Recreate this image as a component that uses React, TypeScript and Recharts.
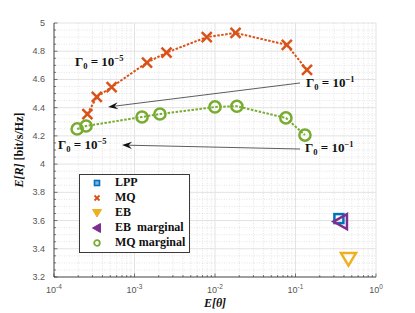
import {
  ScatterChart,
  Scatter,
  XAxis,
  YAxis,
  CartesianGrid,
  ReferenceLine,
  ReferenceDot,
  Legend,
} from "recharts";

// MQ (multi-level quantizer) curve
const mqTheta = [2.6e-4, 3.4e-4, 5.2e-4, 1.43e-3, 2.5e-3, 7.9e-3, 1.8e-2, 7.8e-2, 0.139];
const mqRate = [4.355, 4.476, 4.546, 4.72, 4.79, 4.9, 4.93, 4.845, 4.667];

// MQ marginal curve
const mqMargTheta = [1.94e-4, 2.5e-4, 1.24e-3, 2.07e-3, 1.0e-2, 1.87e-2, 7.6e-2, 0.131];
const mqMargRate = [4.249, 4.27, 4.334, 4.355, 4.405, 4.41, 4.327, 4.206];

// single points
const lppTheta = [0.346];
const lppRate = [3.614];
const ebTheta = [0.455];
const ebRate = [3.327];
const ebMargTheta = [0.367];
const ebMargRate = [3.593];

const xMajor = [1e-4, 1e-3, 1e-2, 1e-1, 1];
const xMinorMult = [2, 3, 4, 5, 6, 7, 8, 9];
const yMajor = [3.2, 3.4, 3.6, 3.8, 4, 4.2, 4.4, 4.6, 4.8, 5];

const xTicks: number[] = [];
xMajor.forEach((d, i) => {
  xTicks.push(d);
  if (i < xMajor.length - 1) xMinorMult.forEach((m) => xTicks.push(d * m));
});
// minor y grid every 0.05 between the labelled ticks
const yTicks: number[] = [];
yMajor.forEach((v, i) => {
  yTicks.push(v);
  if (i < yMajor.length - 1) [0.05, 0.1, 0.15].forEach((d) => yTicks.push(Math.round((v + d) * 100) / 100));
});

const isMajorY = (v: number) => Math.abs(v * 5 - Math.round(v * 5)) < 1e-6;
const isMajorX = (v: number) => xMajor.some((m) => Math.abs(m - v) / m < 1e-6);

const pts = (xs: number[], ys: number[]) => xs.map((x, i) => ({ x, y: ys[i] }));

const C = {
  lpp: "#0072BD",
  mq: "#D95319",
  eb: "#EDB120",
  ebm: "#7E2F8E",
  mqm: "#77AC30",
};

const serif = "'Liberation Serif', 'DejaVu Serif', serif";
const sans = "'Liberation Sans', Arial, sans-serif";

const Cross = ({ cx, cy }: any) => (
  <g stroke={C.mq} strokeWidth={2.5} strokeLinecap="butt">
    <line x1={cx - 5} y1={cy - 5} x2={cx + 5} y2={cy + 5} />
    <line x1={cx - 5} y1={cy + 5} x2={cx + 5} y2={cy - 5} />
  </g>
);
const Ring = ({ cx, cy }: any) => (
  <circle cx={cx} cy={cy} r={5.6} fill="none" stroke={C.mqm} strokeWidth={2.5} />
);
const Square = ({ cx, cy }: any) => (
  <rect x={cx - 4.5} y={cy - 4.5} width={9} height={9} fill="none" stroke={C.lpp} strokeWidth={2.5} />
);
const DownTri = ({ cx, cy }: any) => (
  <polygon
    points={`${cx - 7.5},${cy - 6} ${cx + 7.5},${cy - 6} ${cx},${cy + 6.5}`}
    fill="none"
    stroke={C.eb}
    strokeWidth={2.5}
  />
);
const LeftTri = ({ cx, cy }: any) => (
  <polygon
    points={`${cx - 7.5},${cy} ${cx + 6},${cy - 7.5} ${cx + 6},${cy + 7.5}`}
    fill="none"
    stroke={C.ebm}
    strokeWidth={2.5}
  />
);

const Arrow = (p: any) => {
  const { x1, y1, x2, y2 } = p;
  const a = Math.atan2(y2 - y1, x2 - x1);
  const ca = Math.cos(a);
  const sa = Math.sin(a);
  const L = 10;
  const W = 3.6;
  const bx = x2 - L * ca;
  const by = y2 - L * sa;
  const nx = x2 - L * 0.65 * ca;
  const ny = y2 - L * 0.65 * sa;
  return (
    <g>
      <line x1={x1} y1={y1} x2={nx} y2={ny} stroke="#333" strokeWidth={0.8} />
      <polygon
        points={`${x2},${y2} ${bx - sa * W},${by + ca * W} ${nx},${ny} ${bx + sa * W},${by - ca * W}`}
        fill="#111"
      />
    </g>
  );
};

const Gamma = (exp: string) => (p: any) => (
  <text
    x={p.cx}
    y={p.cy + 4}
    fontFamily={serif}
    fontWeight="bold"
    fontSize={13}
    fill="#111"
  >
    Γ
    <tspan dy={3} fontSize={8.5}>
      0
    </tspan>
    <tspan dy={-3}> = 10</tspan>
    <tspan dy={-5} fontSize={8.5}>
      {exp}
    </tspan>
  </text>
);

const XTick = (p: any) => {
  const v = p.payload.value;
  const major = isMajorX(v);
  const e = Math.round(Math.log10(v));
  return (
    <g>
      <line x1={p.x} y1={p.y} x2={p.x} y2={p.y - (major ? 3.5 : 2)} stroke="#262626" strokeWidth={0.6} />
      {major && (
        <text x={p.x} y={p.y + 16} textAnchor="middle" fontFamily={sans} fontSize={9} fill="#555">
          10
          <tspan dy={-4} fontSize={6.5}>
            {e}
          </tspan>
        </text>
      )}
    </g>
  );
};

const YTick = (p: any) => {
  const v = p.payload.value;
  const major = isMajorY(v);
  return (
    <g>
      <line x1={p.x} y1={p.y} x2={p.x + (major ? 3.5 : 2)} y2={p.y} stroke="#262626" strokeWidth={0.6} />
      {major && (
        <text x={p.x - 9} y={p.y + 3} textAnchor="end" fontFamily={sans} fontSize={9} fill="#555">
          {String(Math.round(v * 10) / 10)}
        </text>
      )}
    </g>
  );
};

const legendItems = [
  { name: "LPP", key: "lpp" },
  { name: "MQ", key: "mq" },
  { name: "EB", key: "eb" },
  { name: "EB  marginal", key: "ebm" },
  { name: "MQ marginal", key: "mqm" },
];

const LegendMarker = ({ k }: { k: string }) => {
  const s = 5;
  if (k === "lpp")
    return <rect x={s - 2.5} y={s - 2.5} width={5} height={5} fill="#7fb3de" stroke={C.lpp} strokeWidth={1.6} />;
  if (k === "mq")
    return (
      <g stroke={C.mq} strokeWidth={1.8}>
        <line x1={s - 2.5} y1={s - 2.5} x2={s + 2.5} y2={s + 2.5} />
        <line x1={s - 2.5} y1={s + 2.5} x2={s + 2.5} y2={s - 2.5} />
      </g>
    );
  if (k === "eb")
    return <polygon points={`${s - 4.5},${s - 3.5} ${s + 4.5},${s - 3.5} ${s},${s + 4}`} fill={C.eb} stroke={C.eb} strokeWidth={1} />;
  if (k === "ebm")
    return <polygon points={`${s - 4.5},${s} ${s + 3.5},${s - 4.5} ${s + 3.5},${s + 4.5}`} fill={C.ebm} stroke={C.ebm} strokeWidth={1} />;
  return <circle cx={s} cy={s} r={2.8} fill="none" stroke={C.mqm} strokeWidth={1.8} />;
};

const LegendBox = () => (
  <div
    style={{
      width: 111,
      height: 79,
      boxSizing: "border-box",
      border: "1px solid #3a3a3a",
      background: "#fff",
      paddingTop: 0,
    }}
  >
    {legendItems.map((it) => (
      <div
        key={it.key}
        style={{
          height: 15,
          display: "flex",
          alignItems: "center",
          fontFamily: serif,
          fontWeight: "bold",
          fontSize: 12,
          color: "#111",
          whiteSpace: "pre",
        }}
      >
        <svg width={10} height={10} style={{ marginLeft: 12, marginRight: 13 }}>
          <LegendMarker k={it.key} />
        </svg>
        {it.name}
      </div>
    ))}
  </div>
);

const grid = (major: (i: number) => boolean) => (props: any) => {
  const m = major(props.index);
  return (
    <line
      key={props.key}
      x1={props.x1}
      y1={props.y1}
      x2={props.x2}
      y2={props.y2}
      stroke={m ? "#e3e3e3" : "#d4d4d4"}
      strokeWidth={m ? 1 : 0.6}
      strokeDasharray={m ? undefined : "1 1.5"}
    />
  );
};

export default function App() {
  return (
    <div style={{ width: 400, height: 305 }}>
      <ScatterChart width={400} height={305} margin={{ top: 15, right: 32, left: 0, bottom: 0 }}>
        <CartesianGrid
          vertical={grid((i) => isMajorX(xTicks[i] ?? 1))}
          horizontal={grid((i) => isMajorY(yTicks[i] ?? 3.2))}
        />
        <XAxis
          type="number"
          dataKey="x"
          scale="log"
          domain={[1e-4, 1]}
          ticks={xTicks}
          interval={0}
          allowDataOverflow
          height={36}
          tickSize={0}
          tickMargin={0}
          tick={XTick}
          axisLine={{ stroke: "#262626", strokeWidth: 0.8 }}
          label={{
            content: (p: any) => {
              const vb = p.viewBox;
              return (
                <text
                  x={vb.x + vb.width / 2}
                  y={vb.y + 30}
                  textAnchor="middle"
                  fontFamily={serif}
                  fontWeight="bold"
                  fontStyle="italic"
                  fontSize={12}
                  fill="#111"
                >
                  E[θ]
                </text>
              );
            },
          }}
        />
        <YAxis
          type="number"
          dataKey="y"
          domain={[3.2, 5]}
          ticks={yTicks}
          interval={0}
          allowDataOverflow
          width={46}
          tickSize={0}
          tickMargin={0}
          tick={YTick}
          axisLine={{ stroke: "#262626", strokeWidth: 0.8 }}
          label={{
            content: (p: any) => {
              const vb = p.viewBox;
              const cx = vb.x + 15;
              const cy = vb.y + vb.height / 2;
              return (
                <text
                  x={cx}
                  y={cy}
                  transform={`rotate(-90 ${cx} ${cy})`}
                  textAnchor="middle"
                  fontFamily={serif}
                  fontWeight="bold"
                  fontSize={12}
                  fill="#111"
                >
                  <tspan fontStyle="italic">E[R]</tspan> [bit/s/Hz]
                </text>
              );
            },
          }}
        />
        <Legend
          layout="horizontal"
          verticalAlign="middle"
          align="center"
          content={() => <LegendBox />}
          wrapperStyle={{ left: 71, top: 166, width: 111, height: 79 }}
        />
        <ReferenceLine
          segment={[
            { x: 0.114, y: 4.575 },
            { x: 4.7e-4, y: 4.405 },
          ]}
          shape={Arrow}
        />
        <ReferenceLine
          segment={[
            { x: 0.114, y: 4.107 },
            { x: 7.0e-4, y: 4.135 },
          ]}
          shape={Arrow}
        />
        <ReferenceDot x={1.82e-4} y={4.724} r={0} shape={Gamma("−5")} />
        <ReferenceDot x={0.135} y={4.575} r={0} shape={Gamma("−1")} />
        <ReferenceDot x={1.12e-4} y={4.135} r={0} shape={Gamma("−5")} />
        <ReferenceDot x={0.131} y={4.114} r={0} shape={Gamma("−1")} />
        <Scatter name="LPP" data={pts(lppTheta, lppRate)} shape={Square} isAnimationActive={false} />
        <Scatter
          name="MQ"
          data={pts(mqTheta, mqRate)}
          line={{ stroke: C.mq, strokeWidth: 2, strokeDasharray: "2.5 1.5" }}
          shape={Cross}
          isAnimationActive={false}
        />
        <Scatter name="EB" data={pts(ebTheta, ebRate)} shape={DownTri} isAnimationActive={false} />
        <Scatter name="EB marginal" data={pts(ebMargTheta, ebMargRate)} shape={LeftTri} isAnimationActive={false} />
        <Scatter
          name="MQ marginal"
          data={pts(mqMargTheta, mqMargRate)}
          line={{ stroke: C.mqm, strokeWidth: 2, strokeDasharray: "2.5 1.5" }}
          shape={Ring}
          isAnimationActive={false}
        />
      </ScatterChart>
    </div>
  );
}
